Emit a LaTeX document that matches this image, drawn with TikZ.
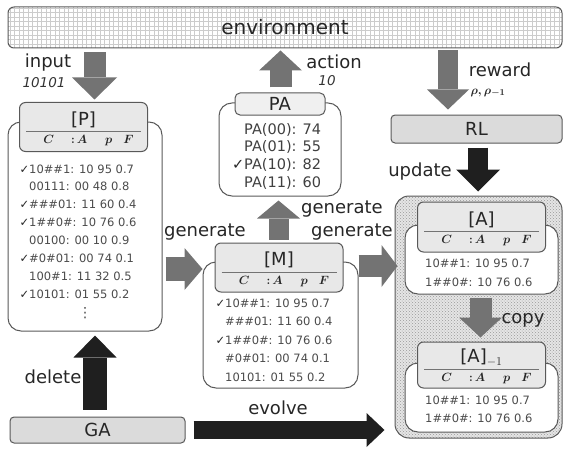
\documentclass[tikz,border=0pt]{standalone}
\usepackage{amsmath, amssymb}
\usepackage{fontspec}
\setmainfont{DejaVu Sans}
\usetikzlibrary{arrows.meta, patterns}

\tikzset{
  envbox/.style={draw=black!65, line width=1pt, rounded corners=6pt, fill=white,
    minimum width=554pt, minimum height=41pt, inner sep=0pt,
    font=\fontsize{20}{22}\selectfont, text=black!85,
    path picture={\draw[black!20, line width=0.4pt, step=4.5pt]
      (path picture bounding box.south west) grid (path picture bounding box.north east);}},
  graybox/.style={draw=black!65, line width=1pt, rounded corners=4pt, fill=black!14,
    inner sep=0pt, font=\fontsize{18}{20}\selectfont, text=black!85},
  areabox/.style={draw=black!65, line width=1pt, rounded corners=14pt,
    preaction={fill=black!10}, pattern=crosshatch dots, pattern color=black!40},
  bodybox/.style={draw=black!65, line width=1pt, rounded corners=13pt, fill=white, inner sep=0pt},
  hdrbox/.style={draw=black!65, line width=1pt, rounded corners=6pt, fill=black!9,
    minimum width=128pt, inner sep=0pt},
  pahdr/.style={draw=black!65, line width=1pt, rounded corners=5pt, fill=black!6,
    inner sep=0pt, font=\fontsize{18}{20}\selectfont, text=black!85},
  hdrtitle/.style={inner sep=0pt, font=\fontsize{18}{20}\selectfont, text=black!85},
  hdrrule/.style={draw=black!55, line width=0.8pt},
  hdrrow/.style={inner sep=0pt, font=\fontsize{13}{15}\selectfont\boldmath, text=black!85},
  clsline/.style={anchor=base west, inner sep=0pt, font=\fontsize{11.5}{13}\selectfont, text=black!70},
  paline/.style={anchor=base west, inner sep=0pt, font=\fontsize{14.5}{16}\selectfont, text=black!75},
  lbl/.style={inner sep=0pt, font=\fontsize{18}{20}\selectfont, text=black!85},
  vallbl/.style={inner sep=0pt, font=\fontsize{13.5}{15}\selectfont\itshape, text=black!80},
  garrow/.style n args={3}{draw=black!55, line width=#1,
    -{Triangle[length=#2, width=#3, line width=0pt]}},
  karrow/.style n args={3}{draw=black!88, line width=#1,
    -{Triangle[length=#2, width=#3, line width=0pt]}}
}

\newcommand{\ck}{\llap{\textcolor{black!85}{✓}}}
% header of a classifier set: name, centre, height, title
\newcommand{\clshead}[4]{%
  \node[hdrbox, minimum height=#3] (#1) at (#2) {};
  \node[hdrtitle] (#1t) at ([yshift=7.5pt]#1.center) {#4};
  \draw[hdrrule] ([xshift=7pt, yshift=-4.5pt]#1.west) -- ([xshift=-7pt, yshift=-4.5pt]#1.east);
  \node[hdrrow] (#1r) at ([xshift=5pt, yshift=-14pt]#1.center)
    {$C\hspace{17pt}{:}\hspace{2pt}A\hspace{18pt}p\hspace{11pt}F$};
}

\begin{document}
\begin{tikzpicture}[x=1pt, y=1pt]
    \useasboundingbox (0,0) rectangle (564,448);

    \node[envbox] (env) at (285,420.5) {environment};
    \node[graybox, minimum width=171pt, minimum height=28pt] (RL) at (476.5,319) {RL};
    \node[graybox, minimum width=175pt, minimum height=26pt] (GA) at (97.5,18) {GA};
    \node[areabox, minimum width=167pt, minimum height=242pt] (Aarea) at (478.5,131) {};

    % bodies
    \node[bodybox, minimum width=154pt, minimum height=209pt] (Pb) at (85,221.5) {};
    \node[bodybox, minimum width=122pt, minimum height=93pt] (PAb) at (280,298.5) {};
    \node[bodybox, minimum width=155pt, minimum height=126pt] (Mb) at (280.5,123) {};
    \node[bodybox, minimum width=153pt, minimum height=69pt] (Ab) at (481.5,188.5) {};
    \node[bodybox, minimum width=153pt, minimum height=69pt] (A1b) at (481.5,50.5) {};

    % headers
    \clshead{Ph}{83.5,321}{49pt}{[P]}
    \clshead{Mh}{279,180.5}{49pt}{[M]}
    \clshead{Ah}{481.5,221}{50pt}{[A]}
    \clshead{A1h}{481.5,83}{46pt}{[A]$_{-1}$}
    \node[pahdr, minimum width=90pt, minimum height=22pt] (PAh) at (280,344) {PA};

    % classifiers
    \foreach \cls [count=\i] in {{\ck10\#\#1: 10 95 0.7}, {00111: 00 48 0.8},
        {\ck\#\#\#01: 11 60 0.4}, {\ck1\#\#0\#: 10 76 0.6}, {00100: 00 10 0.9},
        {\ck\#0\#01: 00 74 0.1}, {100\#1: 11 32 0.5}, {\ck10101: 01 55 0.2}}
        \node[clsline] (P\i) at (29,{275-17.9*(\i-1)}) {\cls};
    \node[clsline, anchor=center, font=\fontsize{14}{16}\selectfont] (Pdots) at (85,135) {⋮};
    \foreach \cls [count=\i] in {{\ck10\#\#1: 10 95 0.7}, {\#\#\#01: 11 60 0.4},
        {\ck1\#\#0\#: 10 76 0.6}, {\#0\#01: 00 74 0.1}, {10101: 01 55 0.2}}
        \node[clsline] (M\i) at (225,{141-18.5*(\i-1)}) {\cls};
    \foreach \cls [count=\i] in {{10\#\#1: 10 95 0.7}, {1\#\#0\#: 10 76 0.6}}
        \node[clsline] (A\i) at (425,{181-19*(\i-1)}) {\cls};
    \foreach \cls [count=\i] in {{10\#\#1: 10 95 0.7}, {1\#\#0\#: 10 76 0.6}}
        \node[clsline] (Aone\i) at (425,{44-18*(\i-1)}) {\cls};
    \foreach \cls [count=\i] in {{PA(00): 74}, {PA(01): 55}, {\ck PA(10): 82}, {PA(11): 60}}
        \node[paline] (PA\i) at (244,{314-17.7*(\i-1)}) {\cls};

    % labels
    \node[lbl] (inlbl) at (48,385) {input};
    \node[vallbl] (inval) at (44,365) {10101};
    \node[lbl] (actlbl) at (334,386) {action};
    \node[vallbl] (actval) at (327,367) {10};
    \node[lbl] (rewlbl) at (500,378) {reward};
    \node[hdrrow] (rewval) at (488,355) {$\rho,\rho_{-1}$};
    \node[lbl] (updlbl) at (420,276) {update};
    \node[lbl] (genlbl) at (205,216) {generate};
    \node[lbl] (genuplbl) at (342,239) {generate};
    \node[lbl] (genAlbl) at (352,216) {generate};
    \node[lbl] (cplbl) at (523,128) {copy};
    \node[lbl] (dellbl) at (53,71) {delete};
    \node[lbl] (evolbl) at (278,40) {evolve};

    % arrows
    \coordinate (inx) at (94.5,0);
    \coordinate (actx) at (280.5,0);
    \coordinate (rewx) at (448,0);
    \coordinate (updx) at (478,0);
    \coordinate (genx) at (278.5,0);
    \coordinate (cpx) at (480.5,0);
    \coordinate (delx) at (95,0);
    \coordinate (geny) at (0,179);
    \coordinate (genAy) at (0,182);
    \draw[garrow={22pt}{22pt}{45pt}, shorten <=4pt, shorten >=2.5pt] (env.south -| inx) -- (Ph.north -| inx);
    \draw[garrow={22pt}{20pt}{43pt}, shorten <=5pt, shorten >=2pt] (PAh.north -| actx) -- (env.south -| actx);
    \draw[garrow={20pt}{20pt}{42pt}, shorten <=2pt, shorten >=5pt] (env.south -| rewx) -- (RL.north -| rewx);
    \draw[karrow={20pt}{22pt}{44pt}, shorten <=4pt, shorten >=4pt] (RL.south -| updx) -- (Aarea.north -| updx);
    \draw[garrow={20pt}{18pt}{43pt}, shorten <=3pt, shorten >=4pt] (Mh.north -| genx) -- (PAb.south -| genx);
    \draw[garrow={24pt}{18pt}{42pt}, shorten <=3pt] (Pb.east |- geny) -- (Mb.west |- geny);
    \draw[garrow={22pt}{16pt}{42pt}, shorten >=-3pt] (Mb.east |- genAy) -- (Aarea.west |- genAy);
    \draw[garrow={22pt}{20pt}{43pt}, shorten <=3pt, shorten >=4pt] (Ab.south -| cpx) -- (A1h.north -| cpx);
    \draw[karrow={24pt}{22pt}{43pt}, shorten <=7pt, shorten >=4pt] (GA.north -| delx) -- (Pb.south -| delx);
    \draw[karrow={18pt}{18pt}{34pt}, shorten <=8pt, shorten >=10pt] (GA.east) -- (Aarea.west |- GA.east);

\end{tikzpicture}
\end{document}
